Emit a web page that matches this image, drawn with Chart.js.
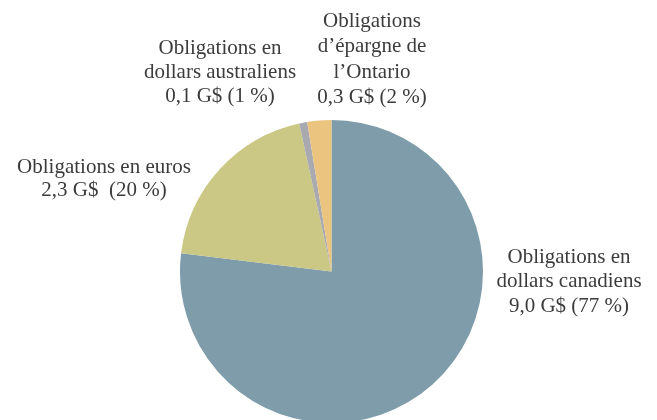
<!DOCTYPE html>
<html>
<head>
<meta charset="utf-8">
<script src="https://cdn.jsdelivr.net/npm/chart.js@4/dist/chart.umd.min.js"></script>
<style>
  html, body { margin: 0; padding: 0; background: #fff; overflow: hidden; }
  #wrap { width: 657px; height: 420px; overflow: hidden; }
</style>
</head>
<body>
<div id="wrap"><canvas id="pie" width="657" height="440"></canvas></div>
<script>
// data, in G$
var categories = [
  "Obligations en dollars canadiens",
  "Obligations en euros",
  "Obligations en dollars australiens",
  "Obligations d’épargne de l’Ontario"
];
var values = [9.0, 2.3, 0.1, 0.3];
var valueLabels = ["9,0 G$ (77 %)", "2,3 G$  (20 %)", "0,1 G$ (1 %)", "0,3 G$ (2 %)"];
var labelLines = [
  ["Obligations en", "dollars canadiens"],
  ["Obligations en euros"],
  ["Obligations en", "dollars australiens"],
  ["Obligations", "d’épargne de", "l’Ontario"]
];

var colors = ["#7f9caa", "#cac884", "#a8aab0", "#ebc47f"];

// where each label block sits (centre x, first line y) and its line spacing
var labelPos = [
  { x: 569, y: 257, lh: 24.5 },
  { x: 104, y: 167, lh: 23 },
  { x: 220, y: 48, lh: 24 },
  { x: 372, y: 21, lh: 25.5 }
];

var sliceLabels = {
  id: "sliceLabels",
  afterDraw: function(chart) {
    var c = chart.ctx;
    c.save();
    c.fillStyle = "#3c3c3c";
    c.font = "21px 'Liberation Serif', serif";
    c.textAlign = "center";
    c.textBaseline = "middle";
    for (var i = 0; i < categories.length; i++) {
      var lines = labelLines[i].concat([valueLabels[i]]);
      var p = labelPos[i];
      for (var j = 0; j < lines.length; j++) {
        c.fillText(lines[j], p.x, p.y + j * p.lh);
      }
    }
    c.restore();
  }
};

var ctx = document.getElementById("pie");
var chart = new Chart(ctx, {
  type: "pie",
  data: {
    labels: categories,
    datasets: [{
      data: values,
      backgroundColor: colors,
      borderWidth: 0
    }]
  },
  options: {
    responsive: false,
    animation: false,
    layout: { padding: { left: 180, right: 174, top: 120, bottom: 17 } },
    plugins: {
      legend: { display: false },
      tooltip: { enabled: false }
    }
  },
  plugins: [sliceLabels]
});
</script>
</body>
</html>
